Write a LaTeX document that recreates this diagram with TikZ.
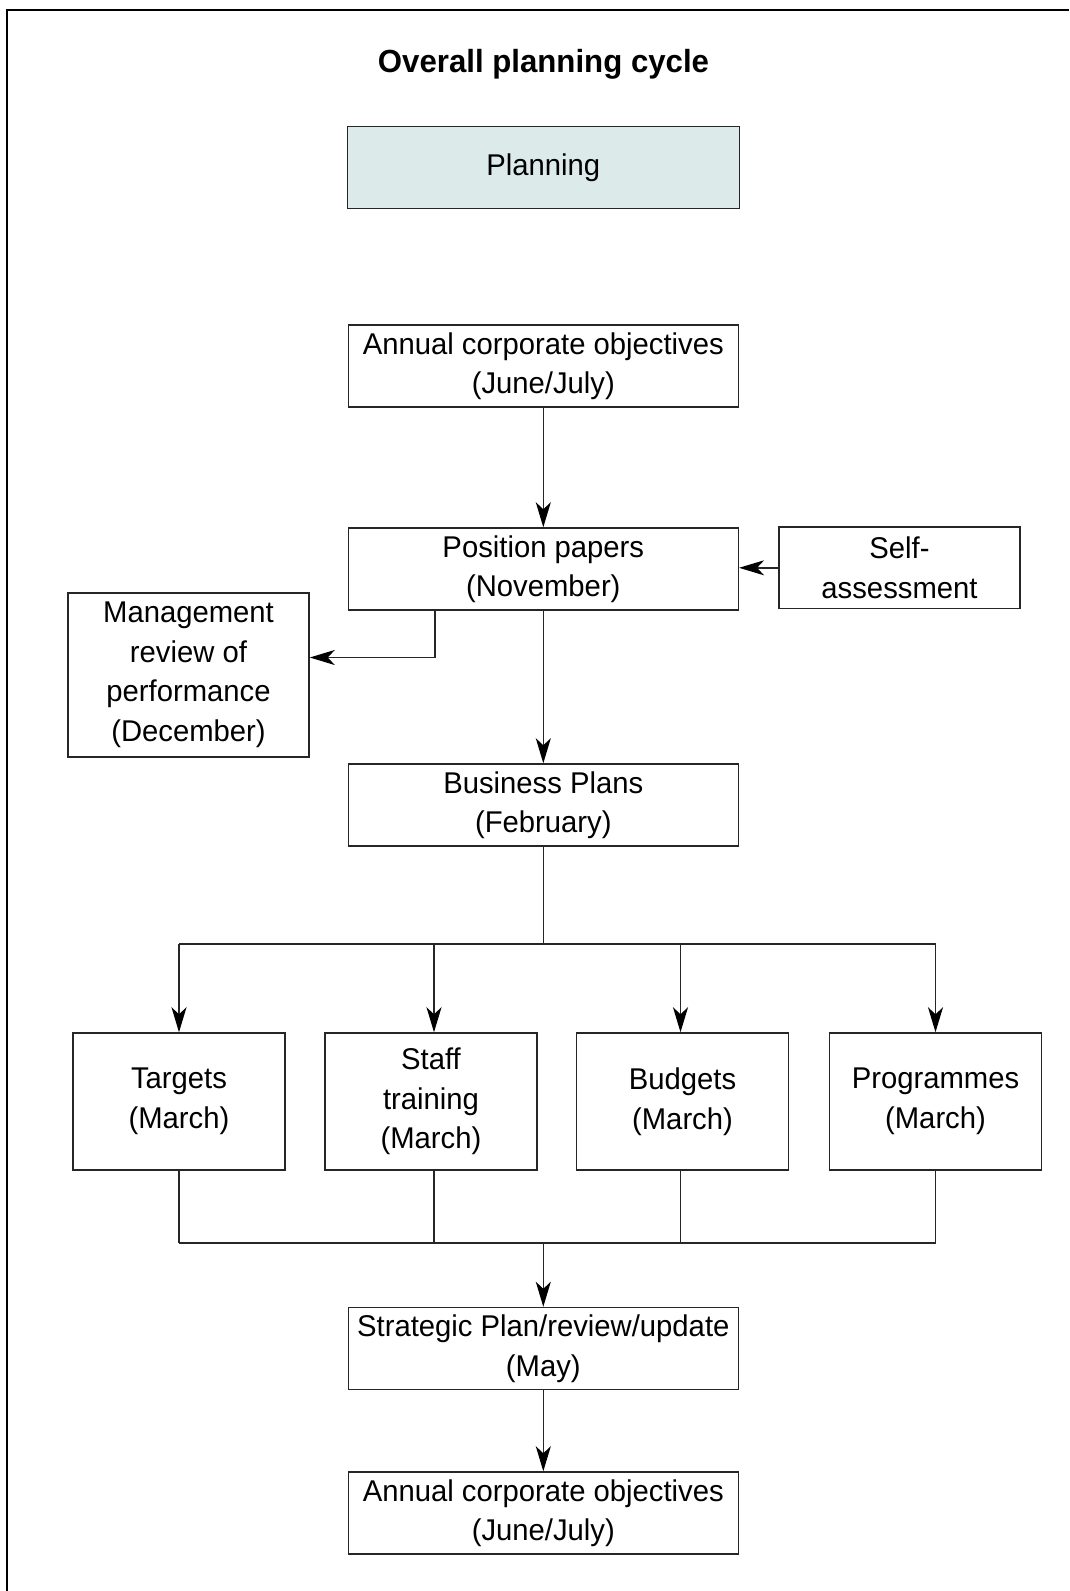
\documentclass[tikz,border=0pt]{standalone}
\usepackage{fontspec}
\setmainfont{Liberation Sans}[FakeStretch=0.975]
\usetikzlibrary{arrows.meta}
\definecolor{boxline}{HTML}{262626}
\definecolor{planfill}{HTML}{DCEBEA}
\begin{document}
\begin{tikzpicture}[x=1pt,y=-1pt,
  box/.style={draw=boxline, line width=1.5pt, minimum width=390pt, minimum height=82pt,
    align=center, inner sep=0pt, font=\fontsize{30}{39.5}\selectfont},
  sidebox/.style={box, minimum width=241pt},
  monthbox/.style={box, minimum width=212pt, minimum height=137pt},
  link/.style={draw=boxline, line width=1.4pt},
  arr/.style={link, -{Stealth[length=25pt,width=15pt,inset=7pt,color=black]}}
]
\useasboundingbox (0,0) rectangle (1069,1591);
% page frame (top and left edges)
\draw[line width=2pt] (1069,10) -- (7,10) -- (7,1591);

% title
\node[font=\fontsize{32}{36}\selectfont\bfseries] (title) at (543.5,64) {Overall planning cycle};

% main column
\node[box, fill=planfill, minimum width=392pt] (plan) at (543.3,167.7) {Planning};
\node[box] (aco1) at (543.3,366) {Annual corporate objectives\\(June/July)};
\node[box] (pos) at (543.3,569) {Position papers\\(November)};
\node[sidebox, minimum height=81.5pt] (self) at (899.5,567.8) {Self-\\assessment};
\node[sidebox, minimum height=164pt] (mgmt) at (188.5,675) {Management\\review of\\performance\\(December)};
\node[box] (biz) at (543.3,805) {Business Plans\\(February)};

% March deliverables
\node[monthbox] (targets) at (179,1101.5) {Targets\\(March)};
\node[monthbox] (staff) at (431,1101.5) {Staff\\training\\(March)};
\node[monthbox] (budgets) at (682.5,1101.5) {Budgets\\(March)};
\node[monthbox] (prog) at (935.5,1101.5) {Programmes\\(March)};

\node[box] (strat) at (543.3,1348.5) {Strategic Plan/review/update\\(May)};
\node[box] (aco2) at (543.3,1513) {Annual corporate objectives\\(June/July)};

% junction points
\coordinate (split) at (543.3,944);
\coordinate (merge) at (543.3,1243);
\coordinate (mgmtturn) at (435,657.5);

% connectors
\draw[arr] (aco1) -- (pos);
\draw[arr] (self.west) -- (self.west -| pos.east);
\draw[arr] (mgmtturn |- pos.south) -- (mgmtturn) -- (mgmtturn -| mgmt.east);
\draw[arr] (pos) -- (biz);

\draw[link] (biz.south) -- (split);
\draw[link] (split -| targets.north) -- (split -| prog.north);
\draw[arr] (split -| targets.north) -- (targets.north);
\draw[arr] ([xshift=3pt]staff.north |- split) -- ([xshift=3pt]staff.north);
\draw[arr] ([xshift=-2pt]budgets.north |- split) -- ([xshift=-2pt]budgets.north);
\draw[arr] (split -| prog.north) -- (prog.north);

\draw[link] (targets.south) -- (targets.south |- merge);
\draw[link] ([xshift=3pt]staff.south) -- ([xshift=3pt]staff.south |- merge);
\draw[link] ([xshift=-2pt]budgets.south) -- ([xshift=-2pt]budgets.south |- merge);
\draw[link] (prog.south) -- (prog.south |- merge);
\draw[link] (merge -| targets.south) -- (merge -| prog.south);
\draw[arr] (merge) -- (strat.north);
\draw[arr] (strat) -- (aco2);
\end{tikzpicture}
\end{document}
